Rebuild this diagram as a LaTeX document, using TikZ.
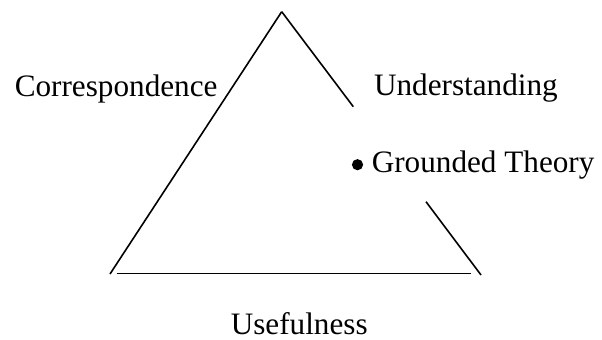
\documentclass[tikz,border=0pt]{standalone}
\usepackage{fontspec}
\setmainfont{Liberation Serif}
\begin{document}
\begin{tikzpicture}[x=0.75pt,y=-0.75pt,line width=1.2pt,
    lbl/.style={anchor=base west,inner sep=0pt,font=\fontsize{23.4}{28}\selectfont}]
    \useasboundingbox (0,0) rectangle (602,339);
    \coordinate (apex) at (281.7,11.7);
    \coordinate (bl) at (110,274);
    \coordinate (rgap1) at (353.3,106.7);
    \coordinate (rgap2) at (426,201.7);
    \coordinate (br) at (481,275);

    \draw (apex) -- (bl);
    \draw (apex) -- (rgap1);
    \draw (rgap2) -- (br);
    \draw (116.7,273.3) -- (471,273.3);

    \node[lbl] (corr) at (14,96.7) {Correspondence};
    \node[lbl] (und) at (373.3,95) {Understanding};
    \fill (357.5,164.7) circle (5.6);
    \node[lbl] (gt) at (371,172) {Grounded Theory};
    \node[lbl] (use) at (230,334) {Usefulness};
  \end{tikzpicture}
\end{document}
